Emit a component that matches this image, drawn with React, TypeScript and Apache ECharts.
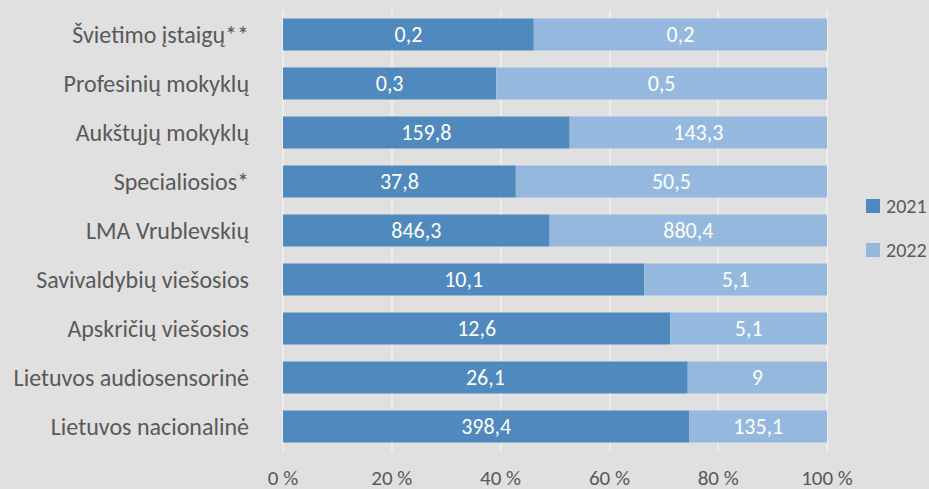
import React, { useEffect, useRef } from "react";
import * as echarts from "echarts";

const categories = [
  "Švietimo įstaigų**",
  "Profesinių mokyklų",
  "Aukštųjų mokyklų",
  "Specialiosios*",
  "LMA Vrublevskių",
  "Savivaldybių viešosios",
  "Apskričių viešosios",
  "Lietuvos audiosensorinė",
  "Lietuvos nacionalinė",
];
const seriesNames = ["2021", "2022"];
const labels2021 = ["0,2", "0,3", "159,8", "37,8", "846,3", "10,1", "12,6", "26,1", "398,4"];
const labels2022 = ["0,2", "0,5", "143,3", "50,5", "880,4", "5,1", "5,1", "9", "135,1"];
const share2021 = [46.1, 39.2, 52.7, 42.8, 49.0, 66.4, 71.2, 74.4, 74.7];
const share2022 = [53.9, 60.8, 47.3, 57.2, 51.0, 33.6, 28.8, 25.6, 25.3];
const tickLabels = ["0 %", "20 %", "40 %", "60 %", "80 %", "100 %"];

const FONT = "Carlito, Lato, sans-serif";

export default function App() {
  const ref = useRef<HTMLDivElement>(null);
  useEffect(() => {
    if (!ref.current) return;
    const chart = echarts.init(ref.current, null, { renderer: "svg" });
    const mkSeries = (name: string, data: number[], labels: string[], color: string) => ({
      name,
      type: "bar",
      stack: "total",
      data,
      barWidth: "65%",
      itemStyle: { color },
      label: {
        show: true,
        position: "inside",
        color: "#ffffff",
        fontFamily: FONT,
        fontSize: 22,
        formatter: (p: any) => labels[p.dataIndex],
      },
    });
    chart.setOption({
      animation: false,
      backgroundColor: "#e0e0e0",
      textStyle: { fontFamily: FONT },
      grid: { left: 283, right: 102, top: 10, bottom: 38, containLabel: false },
      legend: {
        orient: "vertical",
        left: 861,
        top: 191,
        itemWidth: 14,
        itemHeight: 14,
        itemGap: 24,
        icon: "rect",
        data: seriesNames,
        textStyle: { color: "#595959", fontSize: 20, lineHeight: 20, fontFamily: FONT, padding: [0, 0, 0, 1] },
      },
      xAxis: {
        type: "value",
        min: 0,
        max: 100,
        interval: 20,
        axisLine: { show: false },
        axisTick: { show: false },
        splitLine: { show: true, lineStyle: { color: "#f2f2f2", width: 1.5 } },
        axisLabel: {
          color: "#595959",
          fontSize: 21,
          lineHeight: 21,
          fontFamily: FONT,
          margin: 16,
          formatter: (v: number) => tickLabels[Math.round(v / 20)],
        },
      },
      yAxis: {
        type: "category",
        inverse: true,
        data: categories,
        axisLine: { show: false },
        axisTick: { show: false },
        axisLabel: { color: "#595959", fontSize: 24, fontFamily: FONT, margin: 34 },
      },
      series: [
        mkSeries(seriesNames[0], share2021, labels2021, "#4f89bd"),
        mkSeries(seriesNames[1], share2022, labels2022, "#95b8df"),
      ],
    });
    return () => chart.dispose();
  }, []);
  return <div ref={ref} style={{ width: 929, height: 489, position: "absolute", left: 0, top: 0 }} />;
}
